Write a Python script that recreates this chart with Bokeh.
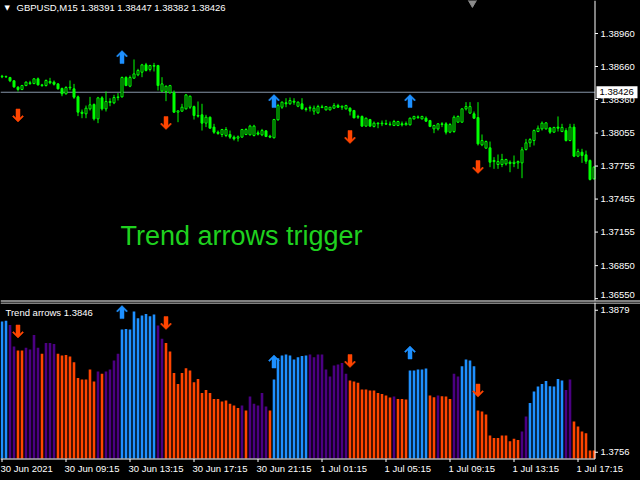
from bokeh.plotting import figure
from bokeh.layouts import column
from bokeh.models import Range1d, ColumnDataSource, GlobalInlineStyleSheet
from bokeh.core.properties import value
from bokeh.embed import file_html
from bokeh.resources import INLINE

# ---------------- data ----------------
OPEN = [
 1.38572, 1.38566, 1.38560, 1.38530, 1.38472, 1.38451, 1.38487, 1.38512, 1.38505, 1.38548,
 1.38493, 1.38487, 1.38524, 1.38518, 1.38502, 1.38460, 1.38412, 1.38472, 1.38457, 1.38384,
 1.38245, 1.38230, 1.38275, 1.38315, 1.38184, 1.38375, 1.38275, 1.38342, 1.38330, 1.38378,
 1.38384, 1.38560, 1.38481, 1.38554, 1.38584, 1.38608, 1.38675, 1.38633, 1.38669, 1.38669,
 1.38436, 1.38433, 1.38421, 1.38421, 1.38245, 1.38254, 1.38275, 1.38290, 1.38296, 1.38215,
 1.38221, 1.38145, 1.38199, 1.38109, 1.38063, 1.38042, 1.38033, 1.38042, 1.38018, 1.38009,
 1.38018, 1.38042, 1.38039, 1.38033, 1.38057, 1.38039, 1.38075, 1.38027, 1.38012, 1.38175,
 1.38290, 1.38330, 1.38321, 1.38345, 1.38299, 1.38321, 1.38275, 1.38281, 1.38254, 1.38239,
 1.38293, 1.38266, 1.38266, 1.38281, 1.38305, 1.38290, 1.38275, 1.38281, 1.38260, 1.38199,
 1.38206, 1.38118, 1.38178, 1.38115, 1.38145, 1.38139, 1.38142, 1.38136, 1.38124, 1.38124,
 1.38139, 1.38130, 1.38130, 1.38184, 1.38202, 1.38184, 1.38190, 1.38169, 1.38093, 1.38093,
 1.38139, 1.38139, 1.38063, 1.38069, 1.38154, 1.38154, 1.38275, 1.38236, 1.38230, 1.38196,
 1.37948, 1.37918, 1.37921, 1.37796, 1.37769, 1.37769, 1.37775, 1.37790, 1.37778, 1.37784,
 1.37784, 1.37906, 1.37966, 1.37987, 1.38069, 1.38093, 1.38093, 1.38102, 1.38063, 1.38109,
 1.38069, 1.38078, 1.37987, 1.38109, 1.37845, 1.37881, 1.37857, 1.37806, 1.37639]
HIGH = [
 1.38584, 1.38578, 1.38566, 1.38536, 1.38481, 1.38493, 1.38524, 1.38530, 1.38554, 1.38560,
 1.38502, 1.38542, 1.38557, 1.38533, 1.38509, 1.38469, 1.38481, 1.38533, 1.38502, 1.38396,
 1.38269, 1.38305, 1.38384, 1.38324, 1.38384, 1.38390, 1.38433, 1.38372, 1.38402, 1.38418,
 1.38569, 1.38572, 1.38578, 1.38724, 1.38639, 1.38684, 1.38693, 1.38675, 1.38693, 1.38675,
 1.38563, 1.38487, 1.38493, 1.38442, 1.38260, 1.38321, 1.38409, 1.38396, 1.38305, 1.38342,
 1.38321, 1.38221, 1.38206, 1.38139, 1.38078, 1.38093, 1.38109, 1.38078, 1.38033, 1.38033,
 1.38093, 1.38099, 1.38130, 1.38130, 1.38078, 1.38093, 1.38081, 1.38039, 1.38184, 1.38321,
 1.38342, 1.38372, 1.38378, 1.38372, 1.38342, 1.38372, 1.38290, 1.38305, 1.38305, 1.38312,
 1.38312, 1.38299, 1.38290, 1.38327, 1.38321, 1.38305, 1.38312, 1.38290, 1.38266, 1.38221,
 1.38215, 1.38196, 1.38184, 1.38160, 1.38154, 1.38169, 1.38175, 1.38160, 1.38175, 1.38166,
 1.38160, 1.38160, 1.38196, 1.38212, 1.38215, 1.38212, 1.38206, 1.38175, 1.38130, 1.38145,
 1.38154, 1.38154, 1.38145, 1.38215, 1.38215, 1.38281, 1.38336, 1.38336, 1.38251, 1.38336,
 1.38042, 1.37987, 1.37978, 1.37836, 1.37860, 1.37866, 1.37821, 1.37806, 1.37851, 1.37806,
 1.37927, 1.38002, 1.38009, 1.38087, 1.38124, 1.38160, 1.38154, 1.38109, 1.38112, 1.38206,
 1.38139, 1.38099, 1.38139, 1.38139, 1.37912, 1.37912, 1.37896, 1.37815, 1.37754]
LOW = [
 1.38554, 1.38557, 1.38518, 1.38466, 1.38433, 1.38445, 1.38481, 1.38493, 1.38499, 1.38487,
 1.38475, 1.38478, 1.38499, 1.38487, 1.38451, 1.38390, 1.38405, 1.38445, 1.38366, 1.38209,
 1.38190, 1.38190, 1.38260, 1.38169, 1.38145, 1.38260, 1.38251, 1.38299, 1.38318, 1.38351,
 1.38378, 1.38481, 1.38472, 1.38548, 1.38572, 1.38563, 1.38615, 1.38615, 1.38615, 1.38442,
 1.38427, 1.38345, 1.38415, 1.38239, 1.38154, 1.38248, 1.38269, 1.38275, 1.38178, 1.38196,
 1.38078, 1.38109, 1.38099, 1.38048, 1.38039, 1.38018, 1.38018, 1.38002, 1.37987, 1.37978,
 1.38012, 1.38036, 1.38033, 1.38024, 1.38033, 1.38027, 1.38018, 1.38009, 1.38006, 1.38169,
 1.38275, 1.38290, 1.38312, 1.38312, 1.38290, 1.38269, 1.38251, 1.38251, 1.38221, 1.38230,
 1.38281, 1.38260, 1.38260, 1.38275, 1.38284, 1.38266, 1.38269, 1.38215, 1.38190, 1.38184,
 1.38115, 1.38112, 1.38115, 1.38106, 1.38099, 1.38118, 1.38130, 1.38118, 1.38118, 1.38118,
 1.38115, 1.38124, 1.38124, 1.38178, 1.38184, 1.38178, 1.38157, 1.38109, 1.38054, 1.38078,
 1.38109, 1.38042, 1.38054, 1.38057, 1.38148, 1.38148, 1.38260, 1.38230, 1.38184, 1.37942,
 1.37936, 1.37912, 1.37745, 1.37730, 1.37730, 1.37745, 1.37760, 1.37699, 1.37745, 1.37730,
 1.37645, 1.37896, 1.37927, 1.37942, 1.38063, 1.38078, 1.38087, 1.38048, 1.38057, 1.38069,
 1.38063, 1.37978, 1.37981, 1.37836, 1.37836, 1.37784, 1.37775, 1.37624, 1.37633]
CLOSE = [
 1.38566, 1.38569, 1.38530, 1.38475, 1.38451, 1.38487, 1.38518, 1.38505, 1.38548, 1.38493,
 1.38487, 1.38533, 1.38512, 1.38499, 1.38457, 1.38412, 1.38469, 1.38466, 1.38381, 1.38245,
 1.38233, 1.38281, 1.38312, 1.38184, 1.38375, 1.38275, 1.38342, 1.38333, 1.38378, 1.38384,
 1.38560, 1.38487, 1.38560, 1.38593, 1.38624, 1.38675, 1.38624, 1.38669, 1.38663, 1.38487,
 1.38502, 1.38481, 1.38487, 1.38245, 1.38257, 1.38290, 1.38402, 1.38390, 1.38215, 1.38209,
 1.38145, 1.38199, 1.38099, 1.38063, 1.38051, 1.38087, 1.38087, 1.38018, 1.38002, 1.38021,
 1.38087, 1.38087, 1.38118, 1.38118, 1.38045, 1.38078, 1.38024, 1.38018, 1.38178, 1.38305,
 1.38336, 1.38321, 1.38351, 1.38336, 1.38336, 1.38275, 1.38269, 1.38287, 1.38281, 1.38296,
 1.38287, 1.38296, 1.38290, 1.38305, 1.38290, 1.38299, 1.38305, 1.38254, 1.38193, 1.38206,
 1.38118, 1.38190, 1.38118, 1.38145, 1.38139, 1.38145, 1.38136, 1.38133, 1.38160, 1.38160,
 1.38130, 1.38142, 1.38190, 1.38206, 1.38196, 1.38206, 1.38163, 1.38115, 1.38124, 1.38139,
 1.38133, 1.38063, 1.38133, 1.38199, 1.38206, 1.38275, 1.38296, 1.38296, 1.38190, 1.37957,
 1.37987, 1.37978, 1.37790, 1.37806, 1.37796, 1.37815, 1.37815, 1.37778, 1.37790, 1.37796,
 1.37903, 1.37966, 1.37996, 1.38078, 1.38099, 1.38145, 1.38148, 1.38063, 1.38106, 1.38099,
 1.38106, 1.37987, 1.38109, 1.37845, 1.37887, 1.37851, 1.37799, 1.37633, 1.37745]

# Trend arrows histogram value and state per bar (U = up, D = down, N = neutral)
HIST = [
 1.38692, 1.38700, 1.38663, 1.38475, 1.38441, 1.38441, 1.38464, 1.38449, 1.38576, 1.38464,
 1.38412, 1.38507, 1.38507, 1.38498, 1.38412, 1.38397, 1.38403, 1.38389, 1.38340, 1.38204,
 1.38189, 1.38189, 1.38276, 1.38172, 1.38259, 1.38239, 1.38259, 1.38276, 1.38354, 1.38412,
 1.38623, 1.38628, 1.38623, 1.38778, 1.38721, 1.38744, 1.38758, 1.38738, 1.38752, 1.38657,
 1.38542, 1.38507, 1.38432, 1.38247, 1.38152, 1.38247, 1.38288, 1.38267, 1.38166, 1.38195,
 1.38074, 1.38100, 1.38074, 1.38022, 1.38022, 1.37999, 1.38008, 1.37979, 1.37964, 1.37944,
 1.37964, 1.37921, 1.38042, 1.37979, 1.37964, 1.38074, 1.37956, 1.37921, 1.38189, 1.38374,
 1.38397, 1.38406, 1.38397, 1.38363, 1.38383, 1.38394, 1.38397, 1.38406, 1.38383, 1.38406,
 1.38406, 1.38276, 1.38215, 1.38311, 1.38319, 1.38334, 1.38239, 1.38181, 1.38172, 1.38161,
 1.38103, 1.38103, 1.38094, 1.38094, 1.38074, 1.38065, 1.38051, 1.38034, 1.38042, 1.38022,
 1.38022, 1.38016, 1.38267, 1.38267, 1.38276, 1.38276, 1.38285, 1.38051, 1.38036, 1.38051,
 1.38045, 1.38042, 1.38022, 1.38239, 1.38215, 1.38305, 1.38363, 1.38354, 1.38305, 1.37921,
 1.37912, 1.37886, 1.37704, 1.37684, 1.37684, 1.37704, 1.37704, 1.37655, 1.37676, 1.37667,
 1.37739, 1.37869, 1.37987, 1.38086, 1.38129, 1.38152, 1.38178, 1.38132, 1.38129, 1.38195,
 1.38181, 1.38100, 1.38189, 1.37826, 1.37782, 1.37739, 1.37725, 1.37575, 1.37575]
HIST_STATE = list(
 "UUNNDDNNNN" "DNNNDDDDDD" "DDDDNDNNNN" "UUUUUUUUUN" "NDDDDDDDDD"
 "DDDDDDDDDD" "NDNNNNNDUU" "UUUUUUUNNN" "NNNNNNNDDD" "DDDDDDDDND"
 "DDUUUUUDDN" "DDDNNUUUUD" "DDDDDDDDDD" "NNUUUUUUUU" "UNNDDDDDD")

# signal arrows: bar index, direction, level in price window, level in indicator window
ARROW_BAR = [4, 30, 41, 68, 87, 102, 119]
ARROW_DIR = ["down", "up", "down", "up", "down", "up", "down"]
ARROW_PRICE = [1.38215, 1.38746, 1.38146, 1.38346, 1.38019, 1.38346, 1.37746]
ARROW_IND = [1.38606, 1.38774, 1.38679, 1.38346, 1.38350, 1.38424, 1.38094]

PRICE_TICKS = [1.38960, 1.38660, 1.38360, 1.38055, 1.37755, 1.37455, 1.37155, 1.36850, 1.36550]
PRICE_TICK_LABELS = ["1.38960", "1.38660", "1.38360", "1.38055", "1.37755",
                     "1.37455", "1.37155", "1.36850", "1.36550"]
IND_TICKS = [1.3879, 1.3756]
IND_TICK_LABELS = ["1.3879", "1.3756"]
TIME_TICK_BARS = [0, 16, 32, 48, 64, 80, 96, 112, 128, 144]
TIME_LABELS = ["30 Jun 2021", "30 Jun 09:15", "30 Jun 13:15", "30 Jun 17:15", "30 Jun 21:15",
               "1 Jul 01:15", "1 Jul 05:15", "1 Jul 09:15", "1 Jul 13:15", "1 Jul 17:15"]
BID = 1.38426
BID_LABEL = "1.38426"
HEADER = "GBPUSD,M15  1.38391 1.38447 1.38382 1.38426"
IND_TITLE = "Trend arrows 1.3846"
BIG_TEXT = "Trend arrows trigger"
SHIFT_MARK_BAR = 117.6

# ---------------- styling / layout ----------------
FONT = value("Liberation Sans")
FS = value("9.5px")
LIME = "#00FF00"
UP_C = "#1E90FF"
DN_C = "#FF4500"
NEU_C = "#4B0082"
STATE_COLOR = {"U": UP_C, "D": DN_C, "N": NEU_C}

W = 640
TOP_H = 302           # price window canvas (rows 0..301)
SUB_H = 178           # indicator window + time scale (rows 302..479)
PX_X = 0.25           # bars per pixel (4 px per bar)
XR = Range1d(-0.375, -0.375 + W * PX_X)
AXIS_PX = 594.5

PX_TOP = 0.0000909    # price per pixel in the price window
TOP_END = 1.39260     # price at the top edge
TOP_Y = Range1d(TOP_END - TOP_H * PX_TOP, TOP_END)
PX_SUB = 0.0123 / 142  # value per pixel in the indicator window
SUB_END = 1.38857
SUB_Y = Range1d(SUB_END - SUB_H * PX_SUB, SUB_END)


def xpx(px):
    return XR.start + px * PX_X


def ytop(py):
    return TOP_END - py * PX_TOP


def ysub(py):
    return SUB_END - (py - 302) * PX_SUB


AXIS_X = xpx(AXIS_PX)
HIST_BASE = ysub(458)

N = len(CLOSE)
xs = list(range(N))


def arrow_polys(bars, levels, dirs, px_y):
    shape = [(0, 6.5), (5.5, 1), (4.5, 0), (2, 2.5), (2, -6.5), (-2, -6.5),
             (-2, 2.5), (-4.5, 0), (-5.5, 1)]
    pxs, pys, cols = [], [], []
    for b, lv, d in zip(bars, levels, dirs):
        s = 1 if d == "up" else -1
        pxs.append([b + dx * PX_X for dx, dy in shape])
        pys.append([lv + s * dy * px_y for dx, dy in shape])
        cols.append(UP_C if d == "up" else DN_C)
    return pxs, pys, cols


def make_fig(h, yr):
    f = figure(frame_width=W, frame_height=h, x_range=XR, y_range=yr,
               output_backend="svg", toolbar_location=None,
               x_axis_location=None, y_axis_location=None,
               background_fill_color="black", border_fill_color="black",
               outline_line_color=None, min_border=0)
    f.xgrid.visible = False
    f.ygrid.visible = False
    return f


def txt(f, x, y, t, color="white", size=FS, align="left", baseline="middle", font=FONT):
    f.text(x=x, y=y, text=t, text_color=color, text_font=font, text_font_size=size,
           text_align=align, text_baseline=baseline)


# ---------------- price window ----------------
top = make_fig(TOP_H, TOP_Y)

top.segment(x0=[XR.start], y0=[BID], x1=[AXIS_X], y1=[BID], line_color="#8795A8", line_width=1)

body_top = [max(o, c) for o, c in zip(OPEN, CLOSE)]
body_bot = [min(o, c) for o, c in zip(OPEN, CLOSE)]
body_fill = ["black" if c > o else LIME for o, c in zip(OPEN, CLOSE)]
csrc = ColumnDataSource(dict(x=xs, o=OPEN, h=HIGH, l=LOW, c=CLOSE,
                             bt=body_top, bb=body_bot, fill=body_fill))
top.segment(x0="x", y0="l", x1="x", y1="h", source=csrc, line_color=LIME, line_width=1)
top.vbar(x="x", top="bt", bottom="bb", width=0.5, source=csrc,
         fill_color="fill", line_color=LIME, line_width=1)

ax_, ay_, ac_ = arrow_polys(ARROW_BAR, ARROW_PRICE, ARROW_DIR, PX_TOP)
top.patches(ax_, ay_, fill_color=ac_, line_color=ac_, line_width=0.5)

top.scatter([SHIFT_MARK_BAR], [TOP_END], marker="inverted_triangle", size=12,
            fill_color="#8C8C8C", line_color="#8C8C8C")

# price scale (lowest label kept just inside the window so it is not clipped)
top.segment(x0=[AXIS_X], y0=[ytop(0)], x1=[AXIS_X], y1=[ytop(300)], line_color="white")
top.segment(x0=[AXIS_X] * len(PRICE_TICKS), y0=PRICE_TICKS,
            x1=[xpx(AXIS_PX + 3)] * len(PRICE_TICKS), y1=PRICE_TICKS, line_color="white")
label_y = [max(t, ytop(294.5)) for t in PRICE_TICKS]
txt(top, [xpx(600)] * len(PRICE_TICKS), label_y, PRICE_TICK_LABELS)
top.rect(x=[xpx(616.5)], y=[BID], width=41, height=12, width_units="screen",
         height_units="screen", fill_color="white", line_color=None)
txt(top, [xpx(599)], [BID], [BID_LABEL], color="black")

# window separator
top.segment(x0=[XR.start], y0=[ytop(300.5)], x1=[XR.end], y1=[ytop(300.5)], line_color="white")

# texts
txt(top, [xpx(4)], [ytop(3.5)], ["▼"], size=value("7px"), baseline="top",
    font=value("DejaVu Sans"))
txt(top, [xpx(16)], [ytop(1.5)], [HEADER], baseline="top")
txt(top, [xpx(120)], [ytop(235)], [BIG_TEXT], color="#1FD11F", size=value("27px"))

# ---------------- indicator window ----------------
bot = make_fig(SUB_H, SUB_Y)

hsrc = ColumnDataSource(dict(x=xs, top=HIST, color=[STATE_COLOR[s] for s in HIST_STATE]))
bot.vbar(x="x", top="top", bottom=HIST_BASE, width=0.65, source=hsrc,
         fill_color="color", line_color=None)

bx_, by_, bc_ = arrow_polys(ARROW_BAR, ARROW_IND, ARROW_DIR, PX_SUB)
bot.patches(bx_, by_, fill_color=bc_, line_color=bc_, line_width=0.5)

bot.segment(x0=[XR.start], y0=[ysub(302.5)], x1=[XR.end], y1=[ysub(302.5)], line_color="white")
# value scale
bot.segment(x0=[AXIS_X], y0=[ysub(302)], x1=[AXIS_X], y1=[ysub(458.5)], line_color="white")
bot.segment(x0=[AXIS_X] * 2, y0=IND_TICKS, x1=[xpx(AXIS_PX + 3)] * 2, y1=IND_TICKS,
            line_color="white")
txt(bot, [xpx(600)] * 2, IND_TICKS, IND_TICK_LABELS)
# time scale
bot.segment(x0=[XR.start], y0=[ysub(458.5)], x1=[AXIS_X], y1=[ysub(458.5)], line_color="white")
bot.segment(x0=TIME_TICK_BARS, y0=[ysub(458.5)] * len(TIME_TICK_BARS),
            x1=TIME_TICK_BARS, y1=[ysub(461.5)] * len(TIME_TICK_BARS), line_color="white")
txt(bot, [b - 1.5 * PX_X for b in TIME_TICK_BARS], [ysub(462.5)] * len(TIME_TICK_BARS),
    TIME_LABELS, baseline="top")

txt(bot, [xpx(5)], [ysub(306)], [IND_TITLE], baseline="top")

layout = column(top, bot, spacing=0, stylesheets=[GlobalInlineStyleSheet(
    css="html, body {margin:0 !important; padding:0; background:#000; overflow:hidden;}")])

open("out.html", "w").write(file_html(layout, INLINE))
